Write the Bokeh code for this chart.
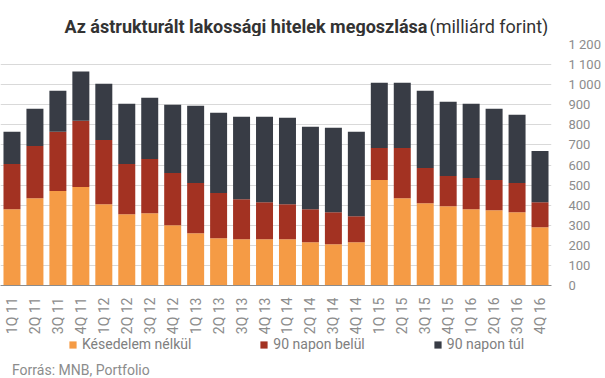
from bokeh.plotting import figure
from bokeh.layouts import column
from bokeh.models import (Range1d, FactorRange, FixedTicker, Legend, LegendItem, LinearAxis)
from bokeh.embed import file_html
from bokeh.resources import INLINE

categories = ["1Q 11", "2Q 11", "3Q 11", "4Q 11", "1Q 12", "2Q 12", "3Q 12", "4Q 12",
              "1Q 13", "2Q 13", "3Q 13", "4Q 13", "1Q 14", "2Q 14", "3Q 14", "4Q 14",
              "1Q 15", "2Q 15", "3Q 15", "4Q 15", "1Q 16", "2Q 16", "3Q 16", "4Q 16"]
kesedelem_nelkul = [380, 435, 470, 490, 405, 355, 360, 300, 260, 235, 230, 230,
                    230, 215, 205, 215, 525, 435, 410, 395, 380, 375, 365, 290]
napon_belul_90 = [225, 260, 295, 330, 320, 250, 270, 260, 250, 225, 200, 185,
                  175, 165, 160, 130, 160, 250, 175, 150, 155, 150, 145, 125]
napon_tul_90 = [160, 185, 205, 245, 280, 300, 305, 340, 385, 400, 410, 425,
                430, 410, 420, 420, 325, 325, 385, 370, 370, 355, 340, 255]
series_names = ["Késedelem nélkül", "90 napon belül", "90 napon túl"]
series_keys = ["k", "b", "t"]
colors = ["#f59b45", "#a33222", "#383c45"]
y_ticks = [0, 100, 200, 300, 400, 500, 600, 700, 800, 900, 1000, 1100, 1200]
title_bold = "Az ástrukturált lakossági hitelek megoszlása"
title_unit = "(milliárd forint)"
source_text = "Forrás: MNB, Portfolio"

W = 605
FRAME_W = 551          # plot frame width (frames of the stacked figures are aligned)
TITLE_H = 36
MAIN_H = 301
FOOT_H = 378 - TITLE_H - MAIN_H


def strip(height):
    f = figure(width=W, height=height, x_range=Range1d(0, FRAME_W), y_range=Range1d(0, height),
               output_backend="svg", toolbar_location=None, min_border=0,
               min_border_right=W - FRAME_W, x_axis_location=None, y_axis_location=None)
    f.grid.visible = False
    f.outline_line_color = None
    return f


# --- title strip ---
t = strip(TITLE_H)
t.text(x=[427], y=[10.3], text=[title_bold], text_align="right", text_baseline="alphabetic",
       text_font={"value": "Roboto"}, text_font_style="bold", text_font_size="18px",
       text_color="#333333")
t.text(x=[429], y=[10.3], text=[title_unit], text_align="left", text_baseline="alphabetic",
       text_font={"value": "Roboto"}, text_font_size="18px", text_color="#333333")

# --- main chart ---
data = dict(cat=categories, k=kesedelem_nelkul, b=napon_belul_90, t=napon_tul_90)

p = figure(width=W, height=MAIN_H, x_range=FactorRange(*categories, range_padding=0),
           y_range=Range1d(0, 1200), output_backend="svg", toolbar_location=None,
           y_axis_location=None, min_border_left=0, min_border_right=W - FRAME_W,
           min_border_top=8, min_border_bottom=52)
p.outline_line_color = None

p.vbar_stack(series_keys, x="cat", width=0.74, color=colors, source=data, line_color=None)

yax = LinearAxis(ticker=FixedTicker(ticks=y_ticks))
yax.axis_line_color = None
yax.major_tick_line_color = None
yax.minor_tick_line_color = None
yax.major_label_standoff = 11
yax.major_label_text_font = "Roboto"
yax.major_label_text_font_size = "13px"
yax.major_label_text_color = "#8c8c8c"
yax.major_label_overrides = {1000: "1 000", 1100: "1 100", 1200: "1 200"}
p.add_layout(yax, "right")

xax = p.xaxis[0]
xax.axis_line_color = "#8c8c8c"
xax.axis_line_width = 1
xax.major_tick_line_color = None
xax.minor_tick_line_color = None
xax.major_tick_out = 0
xax.major_label_orientation = 3.14159265 / 2
xax.major_label_standoff = 12
xax.major_label_text_font = "Roboto"
xax.major_label_text_font_size = "14px"
xax.major_label_text_color = "#8c8c8c"

p.xgrid.grid_line_color = None
p.ygrid.grid_line_color = "#d9d9d9"
p.ygrid.grid_line_width = 1
p.ygrid.ticker = FixedTicker(ticks=y_ticks)

# --- footer: legend + source ---
f = strip(FOOT_H)
# zero-area legend handles (they carry the series colours for the legend swatches)
handles = [f.vbar(x=[0], top=[0], bottom=[0], width=0, fill_color=c, line_color=None)
           for c in colors]
legend = Legend(items=[LegendItem(label=n, renderers=[r]) for n, r in zip(series_names, handles)],
                orientation="horizontal", location=(68, 26), spacing=68, padding=0, margin=0,
                glyph_width=9, glyph_height=9, label_standoff=5, label_height=14,
                label_text_font="Roboto", label_text_font_size="14px", label_text_color="#808080",
                border_line_color=None, background_fill_alpha=0)
f.add_layout(legend, "center")
f.text(x=[11.5], y=[8.5], text=[source_text], text_align="left", text_baseline="alphabetic",
       text_font={"value": "Roboto"}, text_font_size="14px", text_color="#8c8c8c")

open("out.html", "w").write(file_html(column(t, p, f, spacing=0), INLINE))
